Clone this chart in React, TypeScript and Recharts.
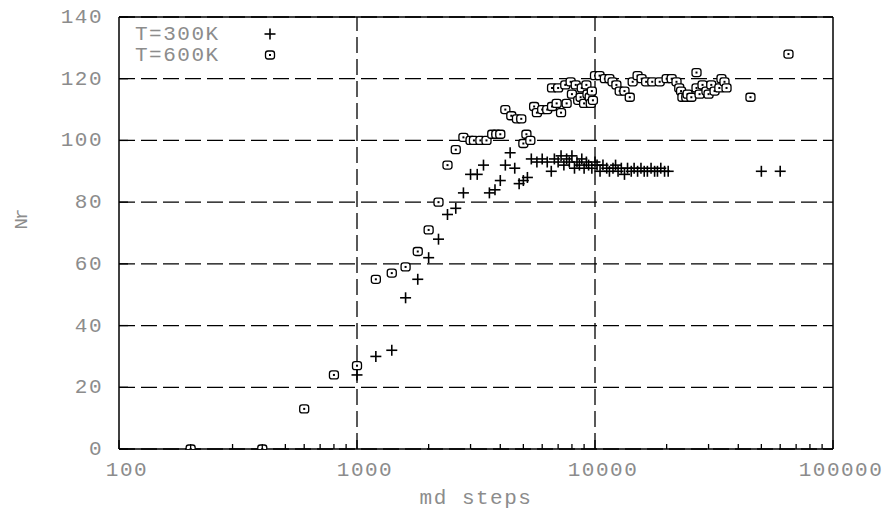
import React from 'react'
import { ScatterChart, Scatter, XAxis, YAxis, CartesianGrid, ReferenceLine, Legend } from 'recharts'

// md steps vs Nr
const t300: [number, number][] = [
  [1000, 24], [1200, 30], [1400, 32], [1600, 49], [1800, 55], [2000, 62], [2200, 68],
  [2400, 76], [2600, 78], [2800, 83], [3000, 89], [3200, 89], [3400, 92], [3600, 83],
  [3800, 84], [4000, 87], [4200, 92], [4400, 96], [4600, 91], [4800, 86], [5000, 87],
  [5200, 88], [5400, 94], [5700, 93], [6000, 94], [6300, 93], [6550, 90], [6750, 94],
  [7000, 93], [7200, 95], [7400, 92], [7600, 94], [7800, 93], [8000, 95], [8200, 91],
  [8400, 93], [8600, 92], [8800, 94], [9000, 91], [9200, 93], [9400, 92], [9700, 91],
  [10000, 93], [10200, 92], [10500, 90], [10800, 92], [11200, 91], [11500, 90],
  [11900, 91], [12200, 92], [12500, 90], [12900, 91], [13300, 89], [13700, 91],
  [14200, 90], [14600, 91], [15100, 90], [15600, 91], [16100, 90], [16600, 90],
  [17200, 91], [17800, 90], [18300, 90], [18900, 91], [19600, 90], [20300, 90],
  [50000, 90], [60000, 90],
]

const t600: [number, number][] = [
  [200, 0], [400, 0], [600, 13], [800, 24], [1000, 27], [1200, 55], [1400, 57],
  [1600, 59], [1800, 64], [2000, 71], [2200, 80], [2400, 92], [2600, 97], [2800, 101],
  [3000, 100], [3100, 100], [3300, 100], [3500, 100], [3700, 102], [3850, 102],
  [4000, 102], [4200, 110], [4450, 108], [4700, 107], [4900, 107], [5000, 99],
  [5150, 102], [5350, 100], [5550, 111], [5700, 109], [6000, 110], [6300, 110],
  [6600, 111], [6600, 117], [6900, 112], [7000, 117], [7200, 109], [7500, 118],
  [7600, 112], [7900, 119], [8000, 115], [8300, 118], [8500, 113], [8700, 114],
  [8800, 117], [9000, 112], [9200, 118], [9300, 115], [9500, 114], [9600, 112],
  [9700, 116], [9800, 113], [10000, 121], [10450, 121], [11000, 120], [11500, 120],
  [11850, 119], [12300, 118], [12700, 116], [13300, 116], [14000, 114], [14400, 119],
  [15100, 121], [15700, 120], [16400, 119], [17400, 119], [18700, 119], [20000, 120],
  [21000, 120], [22000, 119], [22600, 117], [23000, 116], [23300, 114], [24200, 114],
  [24500, 115], [25400, 114], [26700, 122], [26700, 117], [27500, 115], [28300, 118],
  [29400, 116], [30000, 115], [30800, 118], [31800, 116], [33300, 117], [34000, 120],
  [35000, 119], [35700, 117], [45000, 114], [65000, 128],
]

const decades = [100, 1000, 10000, 100000]
const minorX = decades.slice(0, -1).flatMap((d) => [2, 3, 4, 5, 6, 7, 8, 9].map((m) => m * d))
const xTicks = [...decades, ...minorX].sort((a, b) => a - b)
const yTicks = [0, 20, 40, 60, 80, 100, 120, 140]

const FONT = '"Liberation Mono", "Courier New", monospace'
const GRAY = '#8c8c8c'
const DASH = '16 6'

const toPoints = (rows: [number, number][]) => rows.map(([x, y]) => ({ x, y }))

const PlusMark = ({ cx, cy }: any) => (
  <g stroke="#000" strokeWidth={1.6}>
    <line x1={cx - 5.5} x2={cx + 5.5} y1={cy} y2={cy} />
    <line x1={cx} x2={cx} y1={cy - 5.5} y2={cy + 5.5} />
  </g>
)

const BoxMark = ({ cx, cy }: any) => (
  <g>
    <rect x={cx - 4.5} y={cy - 4} width={9} height={8} rx={2.5} fill="#fff" stroke="#000" strokeWidth={1.3} />
    <rect x={cx - 1} y={cy - 1} width={2} height={2} fill="#000" />
  </g>
)

const BottomTick = ({ x, y, payload }: any) => {
  const major = decades.includes(payload.value)
  return (
    <g>
      <line x1={x} x2={x} y1={y} y2={y - (major ? 9 : 5)} stroke="#000" strokeWidth={1.3} />
      {major && (
        <text x={x + 8} y={y + 27} textAnchor="middle" fontFamily={FONT} fontSize={21} letterSpacing={1.5} fill={GRAY}>
          {payload.value}
        </text>
      )}
    </g>
  )
}

const TopTick = ({ x, y, payload }: any) => {
  const major = decades.includes(payload.value)
  return <line x1={x} x2={x} y1={y} y2={y + (major ? 9 : 5)} stroke="#000" strokeWidth={1.3} />
}

const LeftTick = ({ x, y, payload }: any) => (
  <g>
    <line x1={x} x2={x + 9} y1={y} y2={y} stroke="#000" strokeWidth={1.3} />
    <text x={x - 16} y={y + 6} textAnchor="end" fontFamily={FONT} fontSize={21} letterSpacing={1.5} fill={GRAY}>
      {payload.value}
    </text>
  </g>
)

const RightTick = ({ x, y }: any) => (
  <line x1={x} x2={x - 9} y1={y} y2={y} stroke="#000" strokeWidth={1.3} />
)

const renderLegend = () => (
  <svg width={170} height={50}>
    <text x={10} y={20} fontFamily={FONT} fontSize={21} letterSpacing={1.5} fill={GRAY}>T=300K</text>
    <PlusMark cx={145} cy={14} />
    <text x={10} y={41} fontFamily={FONT} fontSize={21} letterSpacing={1.5} fill={GRAY}>T=600K</text>
    <BoxMark cx={145} cy={35} />
  </svg>
)

export default function App() {
  const axisLine = { stroke: '#000', strokeWidth: 1.5 }
  return (
    <div style={{ position: 'absolute', left: 0, top: 0, background: '#fff' }}>
      <ScatterChart width={885} height={510} margin={{ top: 16, right: 51, bottom: 0, left: 0 }}>
        <CartesianGrid vertical={false} stroke="#000" strokeWidth={1.3} strokeDasharray={DASH} />
        {decades.slice(1, -1).map((d) => (
          <ReferenceLine key={d} x={d} stroke="#000" strokeWidth={1.3} strokeDasharray={DASH} />
        ))}
        <XAxis
          dataKey="x"
          type="number"
          scale="log"
          domain={[100, 100000]}
          allowDataOverflow
          ticks={xTicks}
          interval={0}
          tickSize={0}
          tickMargin={0}
          tickLine={false}
          axisLine={axisLine}
          tick={BottomTick}
          height={61}
          label={() => (
            <text x={476} y={504} textAnchor="middle" fontFamily={FONT} fontSize={21} letterSpacing={1.5} fill={GRAY}>
              md steps
            </text>
          )}
        />
        <XAxis
          xAxisId="top"
          orientation="top"
          type="number"
          scale="log"
          domain={[100, 100000]}
          allowDataOverflow
          ticks={xTicks}
          interval={0}
          tickSize={0}
          tickMargin={0}
          tickLine={false}
          axisLine={axisLine}
          tick={TopTick}
          height={1}
        />
        <YAxis
          dataKey="y"
          type="number"
          domain={[0, 140]}
          allowDataOverflow
          ticks={yTicks}
          interval={0}
          tickSize={0}
          tickMargin={0}
          tickLine={false}
          axisLine={axisLine}
          tick={LeftTick}
          width={119}
          label={() => (
            <text x={27} y={220} transform="rotate(-90 27 220)" textAnchor="middle" fontFamily={FONT} fontSize={19} letterSpacing={-2} fill={GRAY}>
              Nr
            </text>
          )}
        />
        <YAxis
          yAxisId="right"
          orientation="right"
          type="number"
          domain={[0, 140]}
          ticks={yTicks}
          interval={0}
          tickSize={0}
          tickMargin={0}
          tickLine={false}
          axisLine={axisLine}
          tick={RightTick}
          width={1}
        />
        <Legend
          layout="horizontal"
          verticalAlign="middle"
          align="center"
          content={renderLegend}
          wrapperStyle={{ left: 125, top: 20, width: 170, height: 50 }}
        />
        <Scatter
          name="T=300K"
          data={toPoints(t300)}
          isAnimationActive={false}
          shape={(p: any) => <PlusMark cx={p.cx} cy={p.cy} />}
        />
        <Scatter
          name="T=600K"
          data={toPoints(t600)}
          isAnimationActive={false}
          shape={(p: any) => <BoxMark cx={p.cx} cy={p.cy} />}
        />
      </ScatterChart>
    </div>
  )
}
